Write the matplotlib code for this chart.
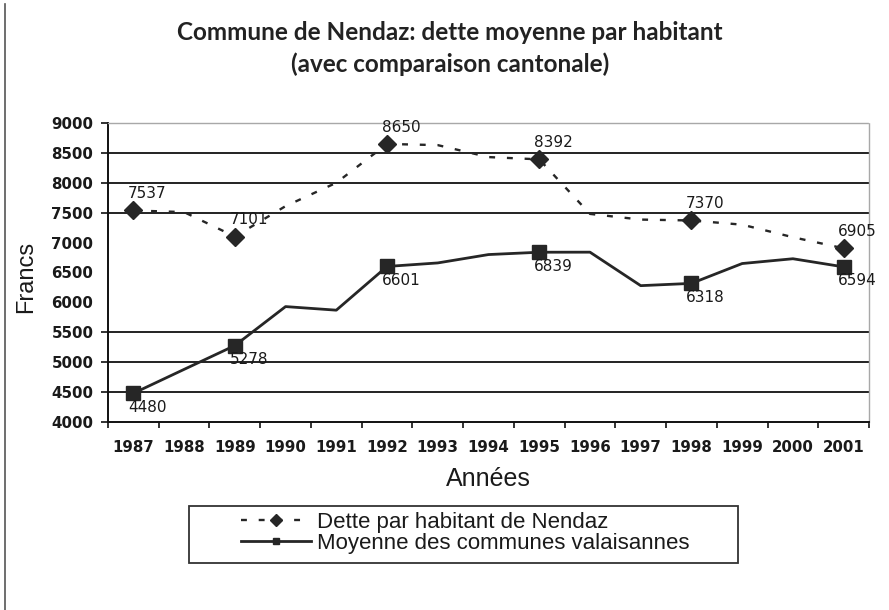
import matplotlib
matplotlib.use("Agg")
import matplotlib.pyplot as plt
from matplotlib.lines import Line2D
from matplotlib.patches import Rectangle

# Données
annees = ["1987", "1988", "1989", "1990", "1991", "1992", "1993", "1994",
          "1995", "1996", "1997", "1998", "1999", "2000", "2001"]
dette_nendaz = [7537, 7510, 7101, 7610, 8000, 8650, 8630, 8430,
                8392, 7480, 7385, 7370, 7300, 7090, 6905]
moyenne_valais = [4480, 4880, 5278, 5930, 5870, 6601, 6660, 6800,
                  6839, 6840, 6280, 6318, 6650, 6730, 6594]
annees_marquees = [0, 2, 5, 8, 11, 14]   # points avec marqueur et étiquette
graduations = [4000, 4500, 5000, 5500, 7500, 8000, 8500, 9000]
graduations_sans_grille = [6000, 6500, 7000]

COULEUR = "#262626"

fig = plt.figure(figsize=(8.89, 6.10), dpi=100)
ax = fig.add_axes([108 / 889, 1 - 422 / 610, 761 / 889, 299 / 610])

x = list(range(len(annees)))

# lignes horizontales (seulement là où le graphique en montre)
for niveau in graduations[1:-1]:
    ax.axhline(niveau, color="#111111", lw=1.3, zorder=1)

ax.plot(x, dette_nendaz, color=COULEUR, lw=1.7, dashes=(2.5, 5),
        marker="D", markersize=9, markevery=annees_marquees, zorder=3)
ax.plot(x, moyenne_valais, color=COULEUR, lw=2.0,
        marker="s", markersize=9.5, markevery=annees_marquees, zorder=3)

for i in annees_marquees:
    ax.annotate(str(dette_nendaz[i]), (x[i], dette_nendaz[i]),
                xytext=(10, 12), textcoords="offset points",
                ha="center", va="center", fontsize=11, color="#1a1a1a",
                family="DejaVu Sans", zorder=4)
    ax.annotate(str(moyenne_valais[i]), (x[i], moyenne_valais[i]),
                xytext=(10, -10), textcoords="offset points",
                ha="center", va="center", fontsize=11, color="#1a1a1a",
                family="DejaVu Sans", zorder=4)

ax.set_xlim(-0.5, len(annees) - 0.5)
ax.set_ylim(4000, 9000)

ax.set_xticks(x, annees)
ax.set_xticks([k - 0.5 for k in range(len(annees) + 1)], minor=True)
ax.tick_params(axis="x", which="major", length=0, pad=13)
ax.tick_params(axis="x", which="minor", length=4, width=1.2, color="#111111")

ax.set_yticks(graduations, [str(v) for v in graduations])
ax.set_yticks(graduations_sans_grille, [str(v) for v in graduations_sans_grille],
              minor=True)
ax.tick_params(axis="y", which="major", length=5, width=1.2, pad=5.5,
               color="#111111")
ax.tick_params(axis="y", which="minor", length=0, pad=10.5)

for lab in ax.get_xticklabels() + ax.get_yticklabels() + ax.get_yticklabels(minor=True):
    lab.set_family("DejaVu Sans")
    lab.set_fontweight("bold")
    lab.set_fontsize(10.8)
    lab.set_color("#1a1a1a")

for cote in ["left", "bottom"]:
    ax.spines[cote].set_color("#111111")
    ax.spines[cote].set_linewidth(1.4)
for cote in ["top", "right"]:
    ax.spines[cote].set_color("#a8a8a8")
    ax.spines[cote].set_linewidth(1.0)
    ax.spines[cote].set_linestyle((0, (1, 1)))

ax.set_ylabel("Francs", family="Liberation Sans", fontsize=17, va="center",
              color="#1a1a1a")
ax.yaxis.set_label_coords(-0.108, 0.486)
ax.set_xlabel("Années", family="Liberation Sans", fontsize=18, va="center",
              color="#1a1a1a")
ax.xaxis.set_label_coords(0.5, -0.19)

fig.text(450 / 889, 1 - 32 / 610,
         "Commune de Nendaz: dette moyenne par habitant",
         ha="center", va="center", family="Lato", fontweight="bold",
         fontsize=17.5, color="#222222")
fig.text(450 / 889, 1 - 64 / 610, "(avec comparaison cantonale)",
         ha="center", va="center", family="Lato", fontweight="bold",
         fontsize=17.5, color="#222222")

# légende
poignees = [
    Line2D([], [], color=COULEUR, lw=1.7, dashes=(2.5, 5), marker="D", markersize=6),
    Line2D([], [], color=COULEUR, lw=2.0, marker="s", markersize=5),
]
leg = fig.legend(poignees, ["Dette par habitant de Nendaz",
                            "Moyenne des communes valaisannes"],
                 loc="center", bbox_to_anchor=(465 / 889, 1 - 533 / 610),
                 frameon=False, prop={"family": "Liberation Sans", "size": 16},
                 handlelength=3.15, handletextpad=0.27, labelspacing=0.0,
                 borderpad=0)
for t in leg.get_texts():
    t.set_color("#1a1a1a")
fig.add_artist(Rectangle((189 / 889, 1 - 563 / 610), 549 / 889, 57 / 610,
                         transform=fig.transFigure, fill=False,
                         edgecolor="#333333", lw=1.3))

# bord gauche de la page
fig.add_artist(Line2D([5 / 889, 5 / 889], [0, 1 - 4 / 610],
                      transform=fig.transFigure, color="#555555", lw=1.2))

fig.savefig("out.png", dpi=100)
